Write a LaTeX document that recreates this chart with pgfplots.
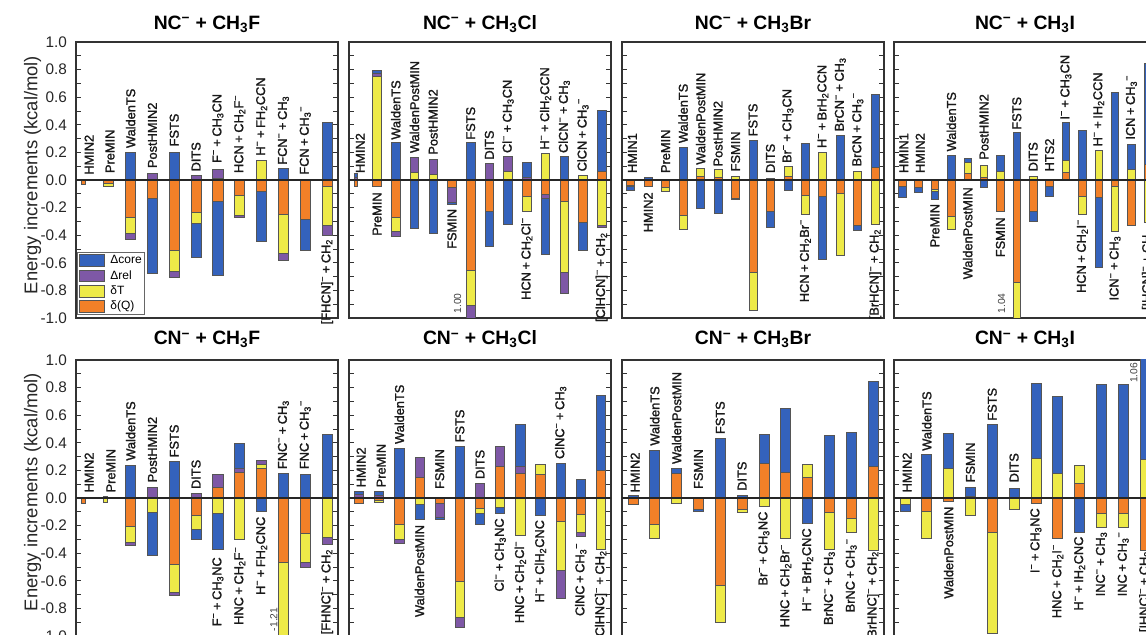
\documentclass[border=0pt]{standalone}
\usepackage{pgfplots}
\pgfplotsset{compat=1.18}
\usepackage{fontspec}
\setmainfont{Liberation Sans}
\newfontfamily\labfont[FakeBold=1.6]{Liberation Sans}
\definecolor{cB}{RGB}{52,98,188}
\definecolor{cP}{RGB}{126,88,166}
\definecolor{cY}{RGB}{238,234,72}
\definecolor{cO}{RGB}{242,128,40}
\definecolor{edgec}{RGB}{85,85,85}
\newcommand{\Sb}[1]{\textsubscript{#1}}
\newcommand{\Mn}{\textsuperscript{−}}
\newcommand{\PL}{\hspace{0.2em}+\hspace{0.2em}}
\newcommand{\BR}[3]{\addplot[ybar, bar width=0.46, bar shift=0, fill=#3, draw=edgec, line width=0.6pt, forget plot] coordinates {(#1,#2)};}
\newcommand{\NR}[3]{\addplot[ybar, bar width=0.18, bar shift=-0.14, fill=#3, draw=edgec, line width=0.6pt, forget plot] coordinates {(#1,#2)};}
\newcommand{\LU}[3]{\node[lab, anchor=west] at (axis cs:#1,#2) {#3};}
\newcommand{\LD}[3]{\node[lab, anchor=east] at (axis cs:#1,#2) {#3};}
\newcommand{\ZL}{\addplot[black!85, line width=0.8pt, forget plot] coordinates {(0.5,0) (20,0)};}
\tikzset{
  lab/.style={rotate=90, font=\labfont\fontsize{9.6}{11}\selectfont, inner sep=0.8pt, text=black!90},
  val/.style={rotate=90, anchor=south west, font=\fontsize{7.7}{8}\selectfont, inner sep=0.5pt, text=black!75},
}
\pgfplotsset{
  panel/.style={
    scale only axis, width=196.5pt, height=207pt, anchor=south west,
    ymin=-1, ymax=1, xmin=0.5, clip mode=individual,
    axis line style={draw=black!80, line width=0.8pt},
    xtick=\empty,
    ytick={-1,-0.8,-0.6,-0.4,-0.2,0,0.2,0.4,0.6,0.8,1},
    minor ytick={-0.9,-0.7,-0.5,-0.3,-0.1,0.1,0.3,0.5,0.7,0.9},
    yticklabels={},
    tick align=inside, ytick pos=both,
    major tick length=3.5pt, minor tick length=3.5pt,
    tick style={black!80, line width=0.6pt},
    title style={font=\fontsize{14.5}{16}\selectfont\bfseries, anchor=base, at={(0.5,1)}},
  },
  toprow/.style={title style={yshift=3.5pt}},
  botrow/.style={title style={yshift=5.25pt}},
  firstcol/.style={
    yticklabels={-1.0,-0.8,-0.6,-0.4,-0.2,0.0,0.2,0.4,0.6,0.8,1.0},
    yticklabel style={font=\fontsize{11.5}{13}\selectfont, text=black!85, xshift=-3.2pt},
  },
}
\begin{document}
\begin{tikzpicture}
% ---------------- NC- + CH3F
\begin{axis}[panel, toprow, firstcol, at={(57pt,237.75pt)}, xmax=12.5,
  title={NC\Mn{} + CH\Sb{3}F},
  legend style={at={(0,0)}, anchor=south west, xshift=0.75pt, yshift=2.25pt, draw=black!60, line width=0.6pt,
    font=\fontsize{9}{9.5}\selectfont, inner sep=1.5pt, row sep=2pt, nodes={inner sep=0.6pt}},
  legend cell align=left,
  legend image code/.code={\draw[#1, draw=edgec, line width=0.6pt] (0pt,-4.4pt) rectangle (18.75pt,4.4pt); \path (22pt,0pt);}]
\addlegendimage{fill=cB}\addlegendentry{Δcore}
\addlegendimage{fill=cP}\addlegendentry{Δrel}
\addlegendimage{fill=cY}\addlegendentry{δT}
\addlegendimage{fill=cO}\addlegendentry{δ(Q)}
\NR{1}{-0.03}{cO}
\BR{2}{-0.045}{cY}\BR{2}{-0.025}{cO}
\BR{3}{0.2}{cB}\BR{3}{-0.43}{cP}\BR{3}{-0.389}{cY}\BR{3}{-0.273}{cO}
\BR{4}{0.048}{cP}\BR{4}{-0.679}{cB}\BR{4}{-0.133}{cO}
\BR{5}{0.198}{cB}\BR{5}{-0.703}{cP}\BR{5}{-0.664}{cY}\BR{5}{-0.51}{cO}
\BR{6}{0.03}{cP}\BR{6}{-0.558}{cB}\BR{6}{-0.314}{cY}\BR{6}{-0.232}{cO}
\BR{7}{0.075}{cP}\BR{7}{0.012}{cY}\BR{7}{-0.69}{cB}\BR{7}{-0.152}{cO}
\BR{8}{-0.268}{cP}\BR{8}{-0.254}{cY}\BR{8}{-0.111}{cO}
\BR{9}{0.14}{cY}\BR{9}{-0.447}{cB}\BR{9}{-0.082}{cO}
\BR{10}{0.082}{cB}\BR{10}{-0.58}{cP}\BR{10}{-0.531}{cY}\BR{10}{-0.251}{cO}
\BR{11}{-0.507}{cB}\BR{11}{-0.285}{cO}
\BR{12}{0.418}{cB}\BR{12}{-0.399}{cP}\BR{12}{-0.329}{cY}\BR{12}{-0.043}{cO}
\ZL
\LU{1.1}{0.029}{HMIN2}
\LU{2.06}{0.041}{PreMIN}
\LU{3}{0.222}{WaldenTS}
\LU{4}{0.077}{PostHMIN2}
\LU{5}{0.234}{FSTS}
\LU{6}{0.053}{DITS}
\LU{7}{0.114}{F\Mn\PL CH\Sb{3}CN}
\LU{8}{0.041}{HCN\PL CH\Sb{2}F\Mn}
\LU{9}{0.167}{H\Mn\PL FH\Sb{2}CCN}
\LU{10}{0.101}{FCN\Mn\PL CH\Sb{3}}
\LU{11}{0.029}{FCN\PL CH\Sb{3}\Mn}
\LD{12}{-0.418}{[FHCN]\Mn\PL CH\Sb{2}}
\end{axis}
% ---------------- NC- + CH3Cl
\begin{axis}[panel, toprow, at={(261.75pt,237.75pt)}, xmax=14.5,
  title={NC\Mn{} + CH\Sb{3}Cl}]
\NR{1}{0.045}{cB}\NR{1}{0.02}{cP}\NR{1}{-0.043}{cO}
\BR{2}{0.795}{cB}\BR{2}{0.77}{cP}\BR{2}{0.754}{cY}\BR{2}{-0.048}{cO}
\BR{3}{0.27}{cB}\BR{3}{-0.41}{cP}\BR{3}{-0.37}{cY}\BR{3}{-0.268}{cO}
\BR{4}{0.162}{cP}\BR{4}{0.053}{cY}\BR{4}{-0.353}{cB}
\BR{5}{0.15}{cP}\BR{5}{0.041}{cY}\BR{5}{-0.386}{cB}
\BR{6}{-0.179}{cB}\BR{6}{-0.164}{cP}\BR{6}{-0.056}{cO}
\BR{7}{0.27}{cB}\BR{7}{-1.0}{cP}\BR{7}{-0.906}{cY}\BR{7}{-0.652}{cO}
\BR{8}{0.121}{cP}\BR{8}{-0.478}{cB}\BR{8}{-0.225}{cO}
\BR{9}{0.174}{cP}\BR{9}{0.065}{cY}\BR{9}{-0.321}{cB}
\BR{10}{0.13}{cB}\BR{10}{0.017}{cP}\BR{10}{-0.229}{cY}\BR{10}{-0.116}{cO}
\BR{11}{0.19}{cY}\BR{11}{-0.539}{cB}\BR{11}{-0.135}{cP}\BR{11}{-0.104}{cO}
\BR{12}{0.169}{cB}\BR{12}{-0.824}{cP}\BR{12}{-0.671}{cY}\BR{12}{-0.152}{cO}
\BR{13}{0.036}{cY}\BR{13}{-0.51}{cB}\BR{13}{-0.309}{cO}
\BR{14}{0.505}{cB}\BR{14}{0.065}{cO}\BR{14}{-0.345}{cP}\BR{14}{-0.329}{cY}
\ZL
\LU{1.1}{0.041}{HMIN2}
\LD{2}{-0.08}{PreMIN}
\LU{3}{0.283}{WaldenTS}
\LU{4}{0.186}{WaldenPostMIN}
\LU{5}{0.174}{PostHMIN2}
\LD{6}{-0.2}{FSMIN}
\LU{7}{0.283}{FSTS}
\LU{8}{0.138}{DITS}
\LU{9}{0.186}{Cl\Mn\PL CH\Sb{3}CN}
\LD{10}{-0.261}{HCN\PL CH\Sb{2}Cl\Mn}
\LU{11}{0.21}{H\Mn\PL ClH\Sb{2}CCN}
\LU{12}{0.186}{ClCN\Mn\PL CH\Sb{3}}
\LU{13}{0.053}{ClCN\PL CH\Sb{3}\Mn}
\LD{14}{-0.37}{[ClHCN]\Mn\PL CH\Sb{2}}
\node[val] at (axis cs:6.54,-0.973) {1.00};
\end{axis}
% ---------------- NC- + CH3Br
\begin{axis}[panel, toprow, at={(466.5pt,237.75pt)}, xmax=15.5,
  title={NC\Mn{} + CH\Sb{3}Br}]
\BR{1}{-0.072}{cB}\BR{1}{-0.05}{cY}\BR{1}{-0.04}{cO}
\BR{2}{0.022}{cB}\BR{2}{-0.043}{cO}
\BR{3}{-0.083}{cY}\BR{3}{-0.055}{cO}
\BR{4}{0.239}{cB}\BR{4}{-0.357}{cY}\BR{4}{-0.254}{cO}
\BR{5}{0.082}{cY}\BR{5}{0.025}{cO}\BR{5}{-0.208}{cB}
\BR{6}{0.075}{cY}\BR{6}{0.022}{cO}\BR{6}{-0.244}{cB}
\BR{7}{0.029}{cY}\BR{7}{-0.14}{cP}\BR{7}{-0.133}{cO}
\BR{8}{0.287}{cB}\BR{8}{-0.944}{cY}\BR{8}{-0.671}{cO}
\BR{9}{0.01}{cP}\BR{9}{-0.345}{cB}\BR{9}{-0.225}{cO}
\BR{10}{0.097}{cY}\BR{10}{0.024}{cO}\BR{10}{-0.072}{cB}
\BR{11}{0.268}{cB}\BR{11}{-0.249}{cY}\BR{11}{-0.109}{cO}
\BR{12}{0.203}{cY}\BR{12}{-0.575}{cB}\BR{12}{-0.121}{cO}
\BR{13}{0.324}{cB}\BR{13}{-0.546}{cY}\BR{13}{-0.097}{cO}
\BR{14}{0.063}{cY}\BR{14}{-0.365}{cB}\BR{14}{-0.326}{cO}
\BR{15}{0.621}{cB}\BR{15}{0.089}{cO}\BR{15}{-0.321}{cY}
\ZL
\LU{1.1}{0.041}{HMIN1}
\LD{2}{-0.08}{HMIN2}
\LU{3}{0.041}{PreMIN}
\LU{4}{0.258}{WaldenTS}
\LU{5}{0.101}{WaldenPostMIN}
\LU{6}{0.089}{PostHMIN2}
\LU{7}{0.053}{FSMIN}
\LU{8}{0.307}{FSTS}
\LU{9}{0.041}{DITS}
\LU{10}{0.114}{Br\Mn\PL CH\Sb{3}CN}
\LD{11}{-0.273}{HCN\PL CH\Sb{2}Br\Mn}
\LU{12}{0.222}{H\Mn\PL BrH\Sb{2}CCN}
\LU{13}{0.343}{BrCN\Mn\PL CH\Sb{3}}
\LU{14}{0.089}{BrCN\PL CH\Sb{3}\Mn}
\LD{15}{-0.345}{[BrHCN]\Mn\PL CH\Sb{2}}
\end{axis}
% ---------------- NC- + CH3I
\begin{axis}[panel, toprow, at={(670.5pt,237.75pt)}, xmax=16.5,
  title={NC\Mn{} + CH\Sb{3}I}]
\BR{1}{-0.123}{cB}\BR{1}{-0.05}{cO}
\BR{2}{-0.092}{cB}\BR{2}{-0.056}{cO}
\BR{3}{-0.143}{cB}\BR{3}{-0.085}{cY}\BR{3}{-0.068}{cO}
\BR{4}{0.181}{cB}\BR{4}{-0.357}{cY}\BR{4}{-0.263}{cO}
\BR{5}{0.155}{cB}\BR{5}{0.126}{cY}\BR{5}{0.048}{cO}
\BR{6}{0.105}{cY}\BR{6}{0.02}{cO}\BR{6}{-0.056}{cB}
\BR{7}{0.181}{cB}\BR{7}{0.06}{cY}\BR{7}{-0.229}{cO}
\BR{8}{0.343}{cB}\BR{8}{-1.04}{cY}\BR{8}{-0.739}{cO}
\BR{9}{0.029}{cY}\BR{9}{-0.297}{cB}\BR{9}{-0.225}{cO}
\BR{10}{-0.116}{cB}\BR{10}{-0.05}{cO}
\BR{11}{0.415}{cB}\BR{11}{0.143}{cY}\BR{11}{0.053}{cO}
\BR{12}{0.36}{cB}\BR{12}{-0.249}{cY}\BR{12}{-0.116}{cO}
\BR{13}{0.215}{cY}\BR{13}{-0.63}{cB}\BR{13}{-0.128}{cO}
\BR{14}{0.633}{cB}\BR{14}{-0.37}{cY}\BR{14}{-0.048}{cO}
\BR{15}{0.258}{cB}\BR{15}{0.077}{cY}\BR{15}{-0.326}{cO}
\BR{16}{0.843}{cB}\BR{16}{0.113}{cO}\BR{16}{-0.31}{cY}
\ZL
\LU{1.1}{0.041}{HMIN1}
\LU{2.1}{0.041}{HMIN2}
\LD{3}{-0.164}{PreMIN}
\LU{4}{0.198}{WaldenTS}
\LD{5}{-0.043}{WaldenPostMIN}
\LU{6}{0.138}{PostHMIN2}
\LD{7}{-0.261}{FSMIN}
\LU{8}{0.355}{FSTS}
\LU{9}{0.053}{DITS}
\LU{10}{0.053}{HTS2}
\LU{11}{0.428}{I\Mn\PL CH\Sb{3}CN}
\LD{12}{-0.273}{HCN\PL CH\Sb{2}I\Mn}
\LU{13}{0.234}{H\Mn\PL IH\Sb{2}CCN}
\LD{14}{-0.394}{ICN\Mn\PL CH\Sb{3}}
\LU{15}{0.283}{ICN\PL CH\Sb{3}\Mn}
\LD{16}{-0.345}{[IHCN]\Mn\PL CH\Sb{2}}
\node[val] at (axis cs:7.35,-0.973) {1.04};
\end{axis}
% ---------------- CN- + CH3F
\begin{axis}[panel, botrow, firstcol, at={(57pt,-0.75pt)}, xmax=12.5,
  title={CN\Mn{} + CH\Sb{3}F}]
\NR{1}{-0.04}{cO}
\NR{2}{0.012}{cP}\NR{2}{-0.03}{cY}
\BR{3}{0.237}{cB}\BR{3}{-0.345}{cP}\BR{3}{-0.324}{cY}\BR{3}{-0.203}{cO}
\BR{4}{0.08}{cP}\BR{4}{-0.415}{cB}\BR{4}{-0.106}{cY}
\BR{5}{0.266}{cB}\BR{5}{-0.705}{cP}\BR{5}{-0.681}{cY}\BR{5}{-0.481}{cO}
\BR{6}{0.036}{cP}\BR{6}{-0.302}{cB}\BR{6}{-0.227}{cY}\BR{6}{-0.126}{cO}
\BR{7}{0.171}{cP}\BR{7}{0.08}{cO}\BR{7}{-0.374}{cB}\BR{7}{-0.114}{cY}
\BR{8}{0.399}{cB}\BR{8}{0.213}{cP}\BR{8}{0.188}{cO}\BR{8}{-0.302}{cY}
\BR{9}{0.273}{cP}\BR{9}{0.242}{cY}\BR{9}{0.217}{cO}\BR{9}{-0.097}{cB}
\BR{10}{0.176}{cB}\BR{10}{-1.21}{cY}\BR{10}{-0.464}{cO}
\BR{11}{0.171}{cB}\BR{11}{-0.505}{cP}\BR{11}{-0.464}{cY}\BR{11}{-0.258}{cO}
\BR{12}{0.461}{cB}\BR{12}{-0.336}{cP}\BR{12}{-0.283}{cY}
\ZL
\LU{1.1}{0.031}{HMIN2}
\LU{2.1}{0.031}{PreMIN}
\LU{3}{0.261}{WaldenTS}
\LU{4}{0.104}{PostHMIN2}
\LU{5}{0.285}{FSTS}
\LU{6}{0.056}{DITS}
\LD{7}{-0.42}{F\Mn\PL CH\Sb{3}NC}
\LD{8}{-0.343}{HNC\PL CH\Sb{2}F\Mn}
\LD{9}{-0.126}{H\Mn\PL FH\Sb{2}CNC}
\LU{10}{0.2}{FNC\Mn\PL CH\Sb{3}}
\LU{11}{0.2}{FNC\PL CH\Sb{3}\Mn}
\LD{12}{-0.36}{[FHNC]\Mn\PL CH\Sb{2}}
\node[val] at (axis cs:9.77,-0.971) {-1.21};
\end{axis}
% ---------------- CN- + CH3Cl
\begin{axis}[panel, botrow, at={(261.75pt,-0.75pt)}, xmax=13.5,
  title={CN\Mn{} + CH\Sb{3}Cl}]
\BR{1}{0.05}{cB}\BR{1}{0.027}{cP}\BR{1}{-0.041}{cO}
\BR{2}{0.05}{cB}\BR{2}{0.02}{cP}\BR{2}{-0.03}{cY}\BR{2}{-0.015}{cO}
\BR{3}{0.357}{cB}\BR{3}{-0.326}{cP}\BR{3}{-0.302}{cY}\BR{3}{-0.191}{cO}
\BR{4}{0.292}{cP}\BR{4}{0.152}{cO}\BR{4}{-0.157}{cB}\BR{4}{-0.046}{cY}
\BR{5}{-0.157}{cB}\BR{5}{-0.138}{cP}\BR{5}{-0.041}{cO}
\BR{6}{0.374}{cB}\BR{6}{-0.94}{cP}\BR{6}{-0.867}{cY}\BR{6}{-0.601}{cO}
\BR{7}{0.104}{cP}\BR{7}{-0.191}{cB}\BR{7}{-0.114}{cY}\BR{7}{-0.072}{cO}
\BR{8}{0.374}{cP}\BR{8}{0.229}{cO}\BR{8}{-0.109}{cB}\BR{8}{-0.065}{cY}
\BR{9}{0.534}{cB}\BR{9}{0.232}{cP}\BR{9}{0.181}{cO}\BR{9}{-0.271}{cY}
\BR{10}{0.244}{cY}\BR{10}{0.169}{cO}\BR{10}{-0.126}{cB}
\BR{11}{0.249}{cB}\BR{11}{-0.729}{cP}\BR{11}{-0.524}{cY}\BR{11}{-0.167}{cO}
\BR{12}{0.133}{cB}\BR{12}{-0.278}{cP}\BR{12}{-0.246}{cY}\BR{12}{-0.118}{cO}
\BR{13}{0.744}{cB}\BR{13}{0.2}{cO}\BR{13}{-0.374}{cY}
\ZL
\LU{1.1}{0.068}{HMIN2}
\LU{2.1}{0.068}{PreMIN}
\LU{3}{0.382}{WaldenTS}
\LD{4}{-0.186}{WaldenPostMIN}
\LU{5}{0.056}{FSMIN}
\LU{6}{0.394}{FSTS}
\LU{7}{0.128}{DITS}
\LD{8}{-0.138}{Cl\Mn\PL CH\Sb{3}NC}
\LD{9}{-0.3}{HNC\PL CH\Sb{2}Cl\Mn}
\LD{10}{-0.15}{H\Mn\PL ClH\Sb{2}CNC}
\LU{11}{0.273}{ClNC\Mn\PL CH\Sb{3}}
\LD{12}{-0.315}{ClNC\PL CH\Sb{3}\Mn}
\LD{13}{-0.37}{[ClHNC]\Mn\PL CH\Sb{2}}
\end{axis}
% ---------------- CN- + CH3Br
\begin{axis}[panel, botrow, at={(466.5pt,-0.75pt)}, xmax=12.5,
  title={CN\Mn{} + CH\Sb{3}Br}]
\BR{1}{0.02}{cB}\BR{1}{-0.046}{cO}
\BR{2}{0.345}{cB}\BR{2}{-0.29}{cY}\BR{2}{-0.191}{cO}
\BR{3}{0.213}{cB}\BR{3}{0.181}{cO}\BR{3}{-0.036}{cY}
\BR{4}{-0.097}{cB}\BR{4}{-0.085}{cO}
\BR{5}{0.43}{cB}\BR{5}{-0.899}{cY}\BR{5}{-0.633}{cO}
\BR{6}{0.02}{cB}\BR{6}{-0.106}{cY}\BR{6}{-0.085}{cO}
\BR{7}{0.459}{cB}\BR{7}{0.254}{cO}\BR{7}{-0.058}{cY}
\BR{8}{0.647}{cB}\BR{8}{0.188}{cO}\BR{8}{-0.295}{cY}
\BR{9}{0.242}{cY}\BR{9}{0.152}{cO}\BR{9}{-0.186}{cB}
\BR{10}{0.454}{cB}\BR{10}{-0.374}{cY}\BR{10}{-0.101}{cO}
\BR{11}{0.478}{cB}\BR{11}{-0.246}{cY}\BR{11}{-0.145}{cO}
\BR{12}{0.845}{cB}\BR{12}{0.232}{cO}\BR{12}{-0.379}{cY}
\ZL
\LU{1.1}{0.031}{HMIN2}
\LU{2}{0.37}{WaldenTS}
\LU{3}{0.237}{WaldenPostMIN}
\LU{4}{0.056}{FSMIN}
\LU{5}{0.454}{FSTS}
\LU{6}{0.043}{DITS}
\LD{7}{-0.089}{Br\Mn\PL CH\Sb{3}NC}
\LD{8}{-0.325}{HNC\PL CH\Sb{2}Br\Mn}
\LD{9}{-0.21}{H\Mn\PL BrH\Sb{2}CNC}
\LD{10}{-0.375}{BrNC\Mn\PL CH\Sb{3}}
\LD{11}{-0.283}{BrNC\PL CH\Sb{3}\Mn}
\LD{12}{-0.375}{[BrHNC]\Mn\PL CH\Sb{2}}
\end{axis}
% ---------------- CN- + CH3I
\begin{axis}[panel, botrow, at={(670.5pt,-0.75pt)}, xmax=12.5,
  title={CN\Mn{} + CH\Sb{3}I}]
\BR{1}{-0.094}{cB}\BR{1}{-0.05}{cY}
\BR{2}{0.316}{cB}\BR{2}{-0.29}{cY}\BR{2}{-0.094}{cO}
\BR{3}{0.471}{cB}\BR{3}{0.213}{cY}\BR{3}{-0.022}{cO}
\BR{4}{0.075}{cB}\BR{4}{0.015}{cO}\BR{4}{-0.126}{cY}
\BR{5}{0.534}{cB}\BR{5}{-0.978}{cY}\BR{5}{-0.246}{cO}
\BR{6}{0.072}{cB}\BR{6}{-0.082}{cY}
\BR{7}{0.833}{cB}\BR{7}{0.285}{cY}\BR{7}{-0.041}{cO}
\BR{8}{0.737}{cB}\BR{8}{0.181}{cY}\BR{8}{-0.29}{cO}
\BR{9}{0.237}{cY}\BR{9}{0.104}{cO}\BR{9}{-0.246}{cB}
\BR{10}{0.824}{cB}\BR{10}{-0.21}{cY}\BR{10}{-0.114}{cO}
\BR{11}{0.824}{cB}\BR{11}{-0.21}{cY}\BR{11}{-0.114}{cO}
\BR{12}{1.06}{cB}\BR{12}{0.278}{cY}\BR{12}{-0.379}{cO}
\ZL
\LU{1.1}{0.031}{HMIN2}
\LU{2}{0.333}{WaldenTS}
\LD{3}{-0.053}{WaldenPostMIN}
\LU{4}{0.104}{FSMIN}
\LU{5}{0.551}{FSTS}
\LU{6}{0.104}{DITS}
\LD{7}{-0.065}{I\Mn\PL CH\Sb{3}NC}
\LD{8}{-0.325}{HNC\PL CH\Sb{2}I\Mn}
\LD{9}{-0.27}{H\Mn\PL IH\Sb{2}CNC}
\LD{10}{-0.234}{INC\Mn\PL CH\Sb{3}}
\LD{11}{-0.234}{INC\PL CH\Sb{3}\Mn}
\LD{12}{-0.375}{[IHNC]\Mn\PL CH\Sb{2}}
\node[val] at (axis cs:11.69,0.828) {1.06};
\end{axis}
\node[rotate=90, anchor=base, font=\fontsize{13.8}{15}\selectfont, text=black!85] at (28pt,345pt) {Energy increments (kcal/mol)};
\node[rotate=90, anchor=base, font=\fontsize{13.8}{15}\selectfont, text=black!85] at (28pt,107.25pt) {Energy increments (kcal/mol)};
\pgfresetboundingbox
\path[use as bounding box] (0,0) rectangle (859.5pt,476.25pt);
\end{tikzpicture}
\end{document}
